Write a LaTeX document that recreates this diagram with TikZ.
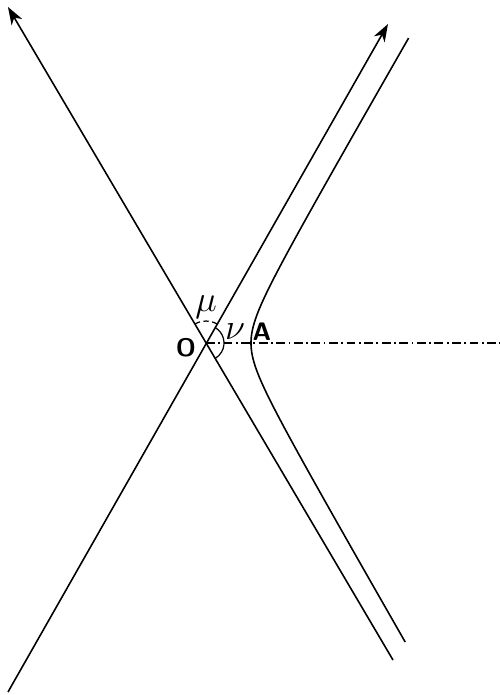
\documentclass[tikz,border=0pt]{standalone}
\usepackage{amsmath, amssymb}
\usetikzlibrary{arrows.meta}

\begin{document}
\begin{tikzpicture}[line width=0.9pt]
            \useasboundingbox (-4.12, -7.04) rectangle (5.88, 6.86);
            \coordinate (O) at (0, 0);
            % asymptotes
            \draw[-{Stealth[length=10pt, width=7pt, inset=3pt]}] (3.74, -6.34) -- (-3.96, 6.72);
            \draw[-{Stealth[length=10pt, width=7pt, inset=3pt]}] (-3.96, -6.98) -- (3.64, 6.38);
            % branch of the hyperbola
            \draw plot[domain=-2.9:2.92, samples=120] ({0.52 + 0.38*cosh(\x)}, {0.66*sinh(\x)});
            \coordinate (A) at (0.9, 0);
            % axis
            \draw[line width=0.7pt, dash pattern=on 5pt off 2pt on 1pt off 2pt] (O) -- (5.88, 0);
            % angles
            \draw[line width=0.7pt, densely dashed] (O) ++(60:0.44) arc (60:120:0.44);
            \draw[line width=0.7pt] (O) ++(60:0.36) arc (60:-60:0.36);
            \node at (0.0, 0.72) {\huge$\mu$};
            \node at (0.58, 0.22) {\huge$\nu$};
            \node at (1.12, 0.22) {\Large\sffamily\bfseries A};
            \node at (-0.4, -0.1) {\Large\sffamily\bfseries O};
        \end{tikzpicture}
\end{document}
